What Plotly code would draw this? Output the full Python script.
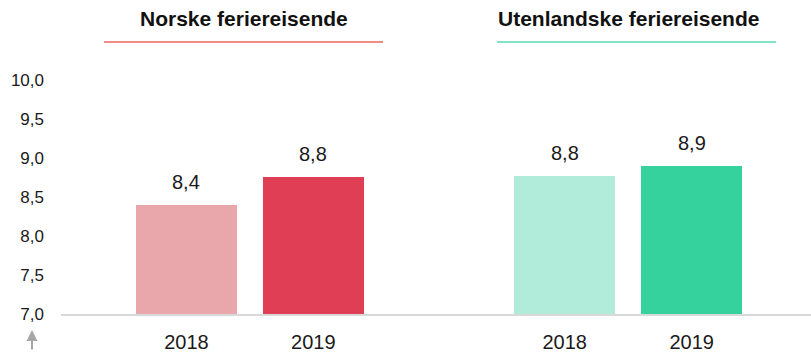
import plotly.graph_objects as go

# Data
groups = ["Norske feriereisende", "Utenlandske feriereisende"]
years = ["2018", "2019"]
norske = [8.40, 8.76]
utenlandske = [8.77, 8.90]
y_ticks = [7.0, 7.5, 8.0, 8.5, 9.0, 9.5, 10.0]

values = [norske, utenlandske]
bar_colors = [["#e9a6ab", "#e03e55"], ["#b0ecd9", "#35d29e"]]
line_colors = ["#f28b86", "#83e3c9"]

W, H = 811, 354
ML, MR, MT, MB = 61, 0, 80, 40
GROUP_STEP = 2.98
X_RANGE = [-0.988, GROUP_STEP + 1 + 0.94]

fig = go.Figure()
xs, ys, cols, ticktext = [], [], [], []
for g, vals in enumerate(values):
    for i, v in enumerate(vals):
        xs.append(g * GROUP_STEP + i)
        ys.append(v)
        cols.append(bar_colors[g][i])
        ticktext.append(years[i])

fig.add_trace(go.Bar(
    x=xs, y=ys, width=0.795, marker=dict(color=cols, line=dict(width=0)),
    showlegend=False, hoverinfo="skip",
))

# value labels above bars
for x, y in zip(xs, ys):
    fig.add_annotation(
        x=x, y=y, text=f"{y:.1f}".replace(".", ","), showarrow=False,
        yanchor="middle", yshift=23,
        font=dict(size=20, color="#1a1a1a"),
    )

plot_w = W - ML - MR
plot_h = H - MT - MB


def px_x(p):
    return (p - ML) / plot_w


def px_y(p):
    return (H - MB - p) / plot_h


# group headers with coloured rule underneath
title_centers = [243.5, 628.5]
line_spans = [(104, 383), (497, 776)]
for g, name in enumerate(groups):
    fig.add_annotation(
        xref="paper", yref="paper", x=px_x(title_centers[g]), y=px_y(18),
        text=f"<b>{name}</b>", showarrow=False, xanchor="center", yanchor="middle",
        font=dict(size=21, color="#111111"),
    )
    x0, x1 = line_spans[g]
    fig.add_shape(
        type="line", xref="paper", yref="paper",
        x0=px_x(x0), x1=px_x(x1), y0=px_y(42), y1=px_y(42),
        line=dict(color=line_colors[g], width=2),
    )

# small arrow under the value axis
fig.add_annotation(
    xref="paper", yref="paper", x=px_x(32), y=px_y(330),
    ax=0, ay=21, axref="pixel", ayref="pixel",
    text="", showarrow=True, arrowhead=2, arrowsize=1.1, arrowwidth=2,
    arrowcolor="#a6a6a6",
)

fig.update_layout(
    width=W, height=H,
    margin=dict(l=ML, r=MR, t=MT, b=MB, pad=0),
    paper_bgcolor="white", plot_bgcolor="white",
    font=dict(family="Liberation Sans, Arial, sans-serif", color="#1a1a1a"),
    separators=", ",
    bargap=0,
    xaxis=dict(
        range=X_RANGE, tickmode="array", tickvals=xs, ticktext=ticktext,
        showgrid=False, zeroline=False, showline=True, linecolor="#d9d9d9",
        linewidth=2, ticks="", ticklabelstandoff=9, automargin=False,
        tickfont=dict(size=20, color="#1a1a1a"), fixedrange=True,
    ),
    yaxis=dict(
        range=[7, 10], tickmode="array", tickvals=y_ticks, tickformat=".1f",
        showgrid=False, zeroline=False, showline=False, ticks="",
        ticklabelstandoff=16, tickfont=dict(size=17, color="#1a1a1a"),
        fixedrange=True, automargin=False,
    ),
)

fig.write_html("out.html")
